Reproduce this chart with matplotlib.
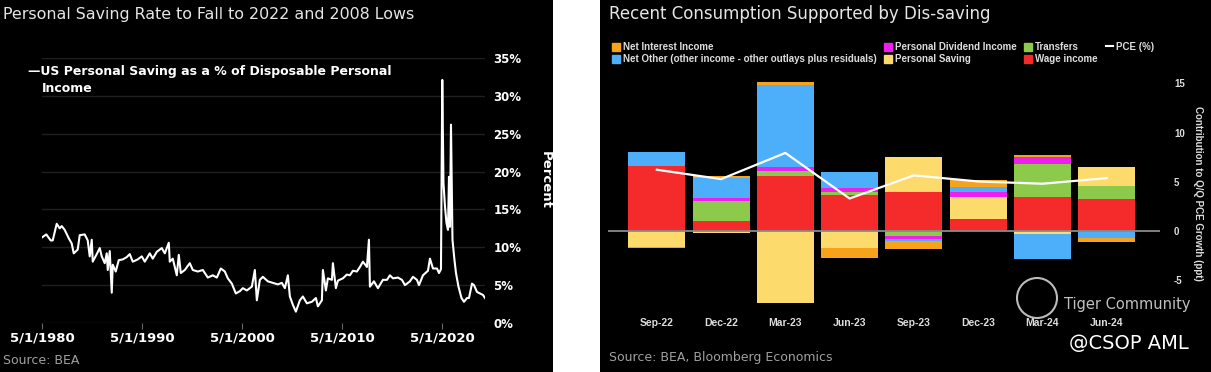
import matplotlib.pyplot as plt
from matplotlib.patches import Rectangle, Circle, Patch
from matplotlib.lines import Line2D
import numpy as np

# ---- left chart: US personal saving rate (% of disposable income) ----
saving_dates = [1980.33, 1980.76, 1981.2, 1981.4, 1981.8, 1982.1, 1982.3, 1982.6, 1983.0, 1983.3,
                1983.5, 1983.9, 1984.1, 1984.6, 1984.9, 1985.1, 1985.3, 1985.4, 1985.8, 1986.1,
                1986.3, 1986.6, 1986.8, 1986.9, 1987.1, 1987.3, 1987.4, 1987.7, 1988.0, 1988.4,
                1988.8, 1989.1, 1989.4, 1989.9, 1990.3, 1990.6, 1991.1, 1991.4, 1991.8, 1992.3,
                1992.6, 1993.0, 1993.1, 1993.4, 1993.8, 1994.0, 1994.2, 1994.6, 1995.1, 1995.4,
                1995.9, 1996.4, 1996.9, 1997.4, 1997.8, 1998.2, 1998.6, 1998.9, 1999.3, 1999.7,
                2000.1, 2000.4, 2000.8, 2001.3, 2001.6, 2001.8, 2002.1, 2002.4, 2002.9, 2003.4,
                2003.9, 2004.3, 2004.6, 2004.9, 2005.1, 2005.4, 2005.7, 2006.1, 2006.4, 2006.8,
                2007.3, 2007.7, 2007.9, 2008.3, 2008.4, 2008.7, 2008.9, 2009.3, 2009.4, 2009.7,
                2009.9, 2010.4, 2010.8, 2011.1, 2011.4, 2011.8, 2012.1, 2012.4, 2012.8, 2013.0,
                2013.1, 2013.5, 2013.9, 2014.4, 2014.8, 2015.1, 2015.4, 2015.9, 2016.3, 2016.6,
                2017.1, 2017.4, 2017.8, 2018.0, 2018.4, 2018.9, 2019.1, 2019.4, 2019.8, 2020.0,
                2020.2, 2020.33, 2020.45, 2020.6, 2020.75, 2020.9, 2021.0, 2021.1, 2021.2, 2021.35,
                2021.55, 2021.7, 2021.95, 2022.25, 2022.5, 2022.8, 2023.0, 2023.3, 2023.5, 2023.8,
                2024.1, 2024.4, 2024.6]
saving_rate = [11.3, 11.7, 10.9, 10.9, 13.1, 12.5, 12.8, 12.3, 11.2, 10.5,
               9.2, 9.7, 11.6, 11.7, 10.9, 8.8, 11.0, 8.1, 9.1, 9.9,
               8.8, 7.9, 9.2, 7.0, 9.5, 4.0, 7.7, 6.8, 8.3, 8.4,
               8.7, 9.1, 8.1, 8.4, 8.8, 8.1, 9.2, 8.5, 9.4, 9.9,
               9.2, 10.6, 8.1, 8.5, 6.3, 9.0, 6.6, 7.0, 7.9, 7.0,
               6.8, 7.0, 6.0, 6.3, 6.0, 7.2, 6.8, 5.9, 5.2, 3.9,
               4.2, 4.6, 4.3, 4.8, 7.0, 3.0, 5.7, 6.1, 5.5, 5.3,
               5.1, 5.3, 4.6, 6.3, 3.5, 2.4, 1.5, 3.0, 3.5, 2.6,
               2.8, 3.3, 2.2, 3.0, 7.0, 4.3, 5.9, 5.7, 7.9, 4.6,
               5.6, 5.9, 6.4, 6.3, 6.9, 6.8, 7.4, 8.1, 7.4, 11.0,
               4.8, 5.5, 4.6, 5.7, 5.7, 6.3, 5.9, 6.0, 5.7, 5.0,
               5.5, 6.1, 5.7, 5.0, 6.3, 6.9, 8.5, 7.2, 7.2, 6.6,
               7.1, 32.1, 18.5, 15.4, 13.2, 12.3, 19.3, 12.7, 26.2, 11.0,
               8.3, 6.6, 4.8, 3.3, 2.8, 3.3, 3.3, 5.2, 5.0, 4.1,
               3.9, 3.7, 3.3]
year_ticks = [1980.33, 1990.33, 2000.33, 2010.33, 2020.33]
year_labels = ['5/1/1980', '5/1/1990', '5/1/2000', '5/1/2010', '5/1/2020']

# ---- right chart: contribution to Q/Q PCE growth (ppt) ----
quarters = ['Sep-22', 'Dec-22', 'Mar-23', 'Jun-23', 'Sep-23', 'Dec-23', 'Mar-24', 'Jun-24']
wage_income = [6.55, 1.03, 5.54, 3.64, 4.01, 1.26, 3.50, 3.23]
transfers = [0.0, 2.03, 0.58, 0.34, -0.50, 0.0, 3.34, 1.36]
personal_saving = [-1.65, -0.20, -7.28, -1.77, 3.51, 2.18, -0.27, 1.91]
dividend_income = [0.05, 0.31, 0.38, 0.41, -0.30, 0.55, 0.68, 0.0]
net_other = [1.43, 2.00, 8.36, 1.60, -0.20, 0.45, -2.62, -0.74]
net_interest = [-0.10, 0.18, 0.27, -0.92, -0.80, 0.75, 0.22, -0.35]
pce = [6.22, 5.27, 7.93, 3.30, 5.65, 5.03, 4.80, 5.37]

W, H = 1211, 372
fig = plt.figure(figsize=(W / 100, H / 100), dpi=100, facecolor='white')


def fx(px):
    return px / W


def fy(py):
    return 1 - py / H


# black panel backgrounds (behind the axes)
fig.patches.append(Rectangle((0, 0), fx(553), 1, transform=fig.transFigure,
                             facecolor='black', edgecolor='none', zorder=-5))
fig.patches.append(Rectangle((fx(600), 0), 1 - fx(600), 1, transform=fig.transFigure,
                             facecolor='black', edgecolor='none', zorder=-5))

# ---------------- left chart ----------------
ax1 = fig.add_axes([fx(42), fy(323), fx(485) - fx(42), (323 - 58) / H])
ax1.set_facecolor('none')
ax1.plot(saving_dates, saving_rate, color='white', lw=1.5, zorder=3)
ax1.set_xlim(1980.33, 2024.6)
ax1.set_ylim(0, 35)
ax1.set_yticks(range(0, 36, 5))
ax1.set_yticklabels([f'{v}%' for v in range(0, 36, 5)])
ax1.yaxis.tick_right()
ax1.set_xticks(year_ticks)
ax1.set_xticklabels(year_labels)
ax1.tick_params(axis='y', length=0, pad=6, labelcolor='white', labelsize=8.5)
ax1.tick_params(axis='x', length=4, color='#666666', pad=2, labelcolor='white', labelsize=9.5)
for lab in ax1.get_xticklabels() + ax1.get_yticklabels():
    lab.set_fontweight('bold')
ax1.grid(axis='y', color='#1f1f1f', lw=1)
for s in ax1.spines.values():
    s.set_visible(False)

fig.text(fx(3), fy(15), 'Personal Saving Rate to Fall to 2022 and 2008 Lows',
         ha='left', va='center', color='#e6e6e6', fontsize=11.4)
fig.text(fx(28), fy(71), '\u2014US Personal Saving as a % of Disposable Personal',
         ha='left', va='center', color='white', fontsize=9, fontweight='bold')
fig.text(fx(42), fy(89), 'Income', ha='left', va='center', color='white',
         fontsize=9, fontweight='bold')
fig.text(fx(545), fy(180), 'Percent', rotation=270, ha='center', va='center',
         color='white', fontsize=9.5, fontweight='bold')
fig.text(fx(3), fy(360), 'Source: BEA', ha='left', va='center', color='#a0a0a0', fontsize=9)

# ---------------- right chart ----------------
orange = '#f7a21b'
magenta = '#ee1fee'
green = '#8dc94b'
blue = '#4daefa'
yellow = '#fdda6c'
red = '#f52a2a'
small = 'Liberation Sans'

ax2 = fig.add_axes([fx(608), fy(309.8), 552 / W, 241.3 / H])
ax2.set_facecolor('none')
x = np.arange(len(quarters))
components = [(wage_income, red), (transfers, green), (personal_saving, yellow),
              (dividend_income, magenta), (net_other, blue), (net_interest, orange)]
pos_base = np.zeros(len(quarters))
neg_base = np.zeros(len(quarters))
for vals, col in components:
    v = np.array(vals)
    pos = np.where(v > 0, v, 0)
    neg = np.where(v < 0, v, 0)
    ax2.bar(x, pos, 0.89, bottom=pos_base, color=col, zorder=2)
    ax2.bar(x, neg, 0.89, bottom=neg_base, color=col, zorder=2)
    pos_base += pos
    neg_base += neg
ax2.axhline(0, color='#8a8a8a', lw=1.3, zorder=3)
ax2.plot(x, pce, color='white', lw=1.6, zorder=4)
ax2.set_xlim(-0.76, 7.83)
ax2.set_ylim(-8, 16.5)
ax2.set_yticks([-5, 0, 5, 10, 15])
ax2.set_yticklabels(['-5', '0', '5', '10', '15'])
ax2.yaxis.tick_right()
ax2.set_xticks(x)
ax2.set_xticklabels(quarters)
ax2.tick_params(axis='y', length=0, pad=10, labelcolor='#dddddd', labelsize=7)
ax2.tick_params(axis='x', length=0, pad=6, labelcolor='#dddddd', labelsize=7.5)
for lab in ax2.get_xticklabels() + ax2.get_yticklabels():
    lab.set_fontweight('bold')
    lab.set_fontfamily(small)
for s in ax2.spines.values():
    s.set_visible(False)

handles = [Patch(color=orange), Patch(color=blue), Patch(color=magenta), Patch(color=yellow),
           Patch(color=green), Patch(color=red), Line2D([], [], color='white', lw=1.5)]
labels = ['Net Interest Income', 'Net Other (other income - other outlays plus residuals)',
          'Personal Dividend Income', 'Personal Saving', 'Transfers', 'Wage income', 'PCE (%)']
fig.legend(handles, labels, ncol=4, loc='upper left', bbox_to_anchor=(fx(612), fy(42)),
           frameon=False, labelcolor='#dddddd',
           prop={'size': 7, 'weight': 'bold', 'family': small},
           handlelength=0.8, handleheight=0.9, handletextpad=0.3, columnspacing=0.8,
           labelspacing=0.25, borderaxespad=0, borderpad=0)

fig.text(fx(609), fy(14), 'Recent Consumption Supported by Dis-saving',
         ha='left', va='center', color='#e6e6e6', fontsize=12)
fig.text(fx(1198), fy(193), 'Contribution to Q/Q PCE Growth (ppt)', rotation=270,
         ha='center', va='center', color='#dddddd', fontsize=7, fontweight='bold',
         family=small)
fig.text(fx(609), fy(357), 'Source: BEA, Bloomberg Economics', ha='left', va='center',
         color='#a0a0a0', fontsize=9)

# watermark
fig.patches.append(Circle((1037 / 100, (H - 298) / 100), 0.2, transform=fig.dpi_scale_trans,
                          facecolor='none', edgecolor='#bbbbbb', lw=1.5, zorder=5))
fig.text(fx(1064), fy(304), 'Tiger Community', ha='left', va='center',
         color='#c0c0c0', fontsize=10.5)
fig.text(fx(1069), fy(343), '@CSOP AML', ha='left', va='center', color='white', fontsize=14)

fig.savefig('out.png', dpi=100, facecolor='white')
